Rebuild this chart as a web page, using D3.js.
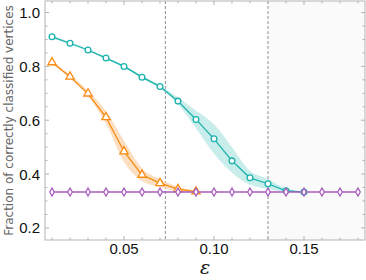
<!DOCTYPE html>
<html>
<head>
<meta charset="utf-8">
<script src="https://cdn.jsdelivr.net/npm/d3@7"></script>
<style>
  body { margin: 0; background: #fff; }
  text { font-family: "Liberation Sans", Arial, sans-serif; }
</style>
</head>
<body>
<div id="viz"></div>
<script>
const W = 366, H = 280;
const margin = { top: 1, right: 1, bottom: 40, left: 45 };

// Data
const eps = [0.01,0.02,0.03,0.04,0.05,0.06,0.07,0.08,0.09,0.10,0.11,0.12,0.13,0.14,0.15,0.16,0.17,0.18];
const tealMean  = [0.910,0.886,0.861,0.831,0.800,0.760,0.725,0.671,0.603,0.531,0.449,0.386,0.364,0.338,0.333,0.333,0.333,0.333];
const tealLow   = [0.905,0.882,0.857,0.827,0.796,0.755,0.719,0.660,0.570,0.475,0.405,0.360,0.345,0.333,0.333,0.333,0.333,0.333];
const tealHigh  = [0.915,0.890,0.865,0.835,0.804,0.765,0.731,0.684,0.635,0.585,0.500,0.412,0.382,0.346,0.334,0.333,0.333,0.333];
const orangeMean = [0.815,0.762,0.699,0.611,0.484,0.397,0.366,0.344,0.335,0.333,0.333,0.333,0.333,0.333,0.333,0.333,0.333,0.333];
const orangeLow  = [0.810,0.755,0.688,0.588,0.445,0.374,0.352,0.336,0.331,0.330,0.331,0.331,0.331,0.331,0.331,0.331,0.331,0.331];
const orangeHigh = [0.820,0.769,0.710,0.634,0.524,0.422,0.382,0.353,0.339,0.336,0.335,0.335,0.335,0.335,0.335,0.335,0.335,0.335];
const purpleMean = eps.map(() => 1/3);
const thresholds = [0.073, 0.13];
const xTicks = [0.05, 0.10, 0.15];
const yTicks = [0.2, 0.4, 0.6, 0.8, 1.0];

const x = d3.scaleLinear().domain([0.0061, 0.1839]).range([margin.left, W - margin.right]);
const y = d3.scaleLinear().domain([0.155, 1.043]).range([H - margin.bottom, margin.top]);

const svg = d3.select("#viz").append("svg")
    .attr("width", W).attr("height", H);

// shaded region past the second threshold
svg.append("rect")
    .attr("x", x(thresholds[1])).attr("y", y.range()[1])
    .attr("width", x.range()[1] - x(thresholds[1]))
    .attr("height", y.range()[0] - y.range()[1])
    .attr("fill", "#fafafa");

// threshold lines
svg.selectAll(".thr").data(thresholds).enter().append("line")
    .attr("x1", d => x(d)).attr("x2", d => x(d))
    .attr("y1", y.range()[1]).attr("y2", y.range()[0])
    .attr("stroke", "#999").attr("stroke-width", 1.1)
    .attr("stroke-dasharray", "3,2");

// frame
const frame = svg.append("g").attr("stroke", "#b3b3b3").attr("stroke-width", 1).attr("fill", "none");
frame.append("rect")
    .attr("x", x.range()[0]).attr("y", y.range()[1])
    .attr("width", x.range()[1] - x.range()[0])
    .attr("height", y.range()[0] - y.range()[1]);

// inward ticks on all sides
const minorX = d3.range(1, 19).map(i => i / 100);
const minorY = d3.range(4, 21).map(i => i / 20);
minorX.forEach(t => {
    const major = xTicks.some(m => Math.abs(m - t) < 1e-9);
    const len = major ? 4 : 2.5;
    frame.append("line").attr("x1", x(t)).attr("x2", x(t))
        .attr("y1", y.range()[0]).attr("y2", y.range()[0] - len);
    frame.append("line").attr("x1", x(t)).attr("x2", x(t))
        .attr("y1", y.range()[1]).attr("y2", y.range()[1] + len);
});
minorY.forEach(t => {
    const major = yTicks.some(m => Math.abs(m - t) < 1e-9);
    const len = major ? 4 : 2.5;
    frame.append("line").attr("x1", x.range()[0]).attr("x2", x.range()[0] + len)
        .attr("y1", y(t)).attr("y2", y(t));
    frame.append("line").attr("x1", x.range()[1]).attr("x2", x.range()[1] - len)
        .attr("y1", y(t)).attr("y2", y(t));
});

// tick labels
svg.selectAll(".xl").data(xTicks).enter().append("text")
    .attr("x", d => x(d)).attr("y", y.range()[0] + 13.5)
    .attr("text-anchor", "middle").attr("font-size", 15).attr("fill", "#111")
    .text(d => d.toFixed(2));
svg.selectAll(".yl").data(yTicks).enter().append("text")
    .attr("x", x.range()[0] - 5).attr("y", d => y(d) + 5.5)
    .attr("text-anchor", "end").attr("font-size", 15).attr("fill", "#111")
    .text(d => d.toFixed(1));

// axis titles
svg.append("text")
    .attr("transform", "translate(12.5," + ((y.range()[0] + y.range()[1]) / 2) + ") rotate(-90)")
    .attr("text-anchor", "middle").attr("font-size", 12).attr("fill", "#666")
    .style("font-family", "'DejaVu Sans', sans-serif")
    .text("Fraction of correctly classified vertices");
svg.append("text")
    .attr("x", 205).attr("y", 274)
    .attr("text-anchor", "middle").attr("font-size", 19).attr("font-style", "italic")
    .attr("fill", "#111").style("font-family", "'DejaVu Serif', serif")
    .text("ε");

const series = [
    { mean: tealMean, low: tealLow, high: tealHigh, color: "#19b2ac", band: "#bfeae8", shape: "circle", upTo: 0.15 },
    { mean: orangeMean, low: orangeLow, high: orangeHigh, color: "#f98b12", band: "#fcd9b6", shape: "triangle", upTo: 0.09 },
    { mean: purpleMean, low: null, high: null, color: "#a95cbd", band: null, shape: "diamond", upTo: 0.18 }
];

const plot = svg.append("g");
series.forEach(s => {
    const pts = eps.map((e, i) => ({ e, m: s.mean[i], lo: s.low ? s.low[i] : null, hi: s.high ? s.high[i] : null }))
        .filter(p => p.e <= s.upTo + 1e-9);
    if (s.band) {
        plot.append("path").datum(pts)
            .attr("fill", s.band).attr("opacity", 0.85)
            .attr("d", d3.area().x(p => x(p.e)).y0(p => y(p.lo)).y1(p => y(p.hi)).curve(d3.curveMonotoneX));
    }
    plot.append("path").datum(pts)
        .attr("fill", "none").attr("stroke", s.color).attr("stroke-width", 1.3)
        .attr("d", d3.line().x(p => x(p.e)).y(p => y(p.m)));
    const sym = s.shape === "circle" ? d3.symbolCircle : s.shape === "triangle" ? d3.symbolTriangle : d3.symbolDiamond;
    const size = s.shape === "circle" ? 26 : s.shape === "triangle" ? 30 : 18;
    plot.selectAll(null).data(pts).enter().append("path")
        .attr("transform", p => "translate(" + x(p.e) + "," + y(p.m) + ")")
        .attr("d", d3.symbol().type(sym).size(size))
        .attr("fill", "#fff").attr("stroke", s.color).attr("stroke-width", 1.3);
});
</script>
</body>
</html>
